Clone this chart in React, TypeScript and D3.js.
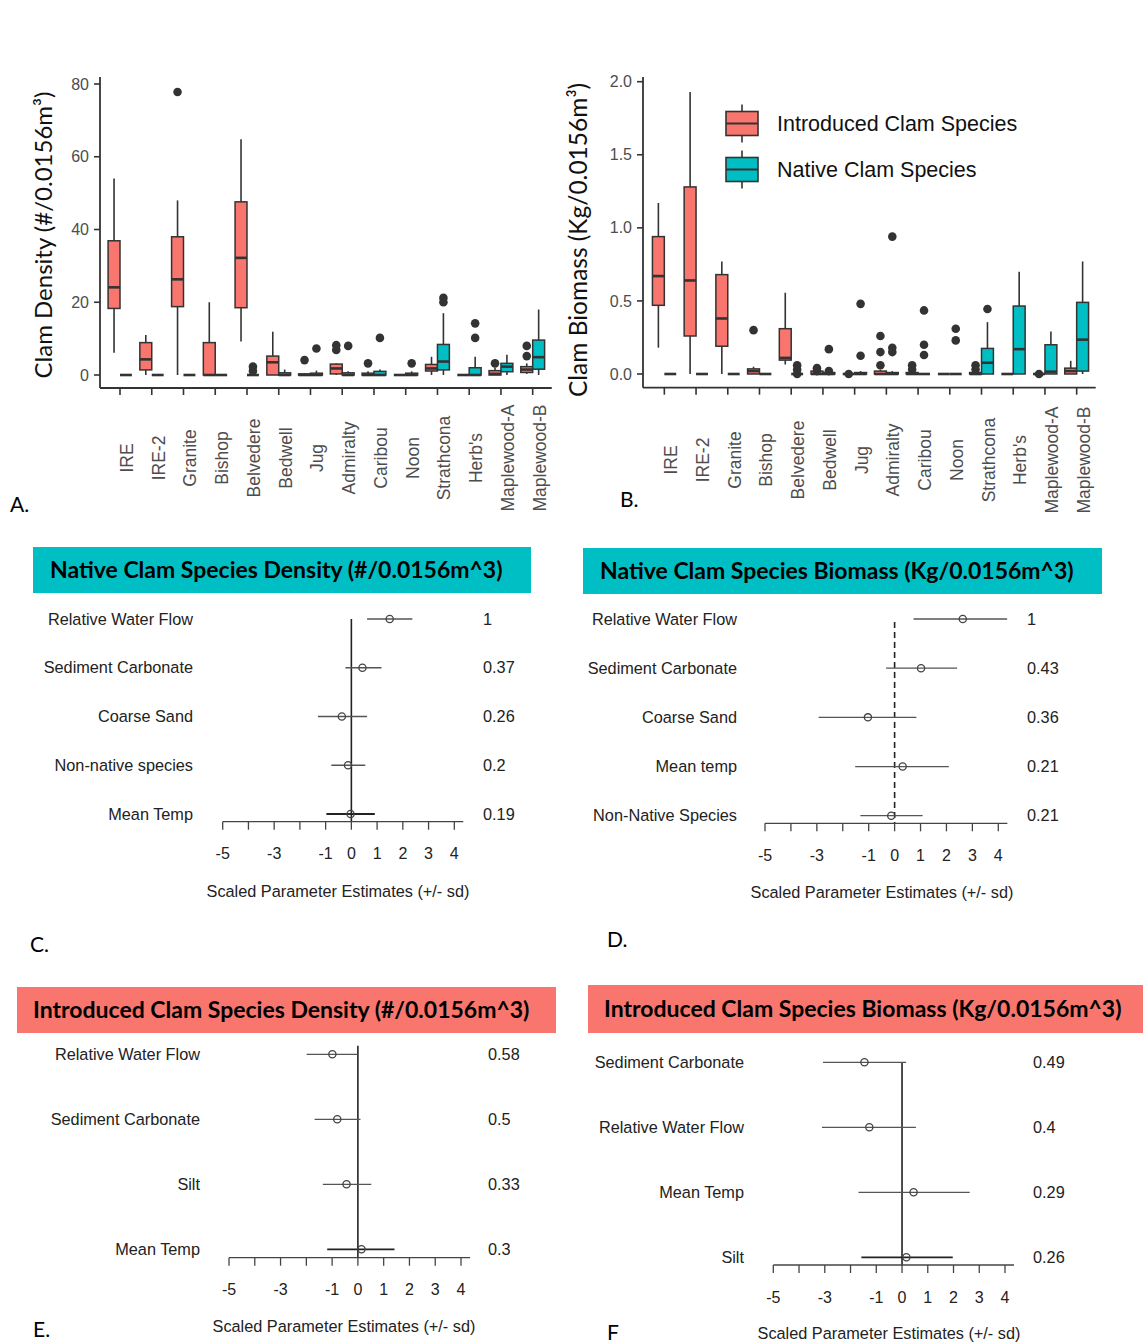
import * as d3 from "d3";

// ---- box plot data (A: density, B: biomass) ----
const SITES = [
  "IRE", "IRE-2", "Granite", "Bishop", "Belvedere", "Bedwell", "Jug",
  "Admiralty", "Caribou", "Noon", "Strathcona", "Herb's", "Maplewood-A", "Maplewood-B",
];

// [whisker low, q1, median, q3, whisker high]
const DENSITY_INTRO = [
  [6.1, 18.3, 24.1, 36.9, 54], [0, 1.4, 4.3, 8.9, 11], [0, 18.8, 26.3, 38, 48],
  [0, 0, 0, 8.9, 20], [9.2, 18.5, 32.2, 47.6, 64.8], [0, 0, 3.5, 5.2, 11.9],
  [0, 0, 0, 0.3, 0.5], [0, 0.3, 1.8, 3, 3.2], [0, 0, 0, 0.5, 1], [0, 0, 0, 0, 0],
  [0, 1.1, 1.8, 2.9, 5], [0, 0, 0, 0, 0], [0, 0, 0.3, 1.2, 2], [0.3, 0.7, 1.5, 2.3, 3.2],
];
const DENSITY_INTRO_OUT = [
  [], [], [77.8], [], [], [], [4.1], [8.2, 6.9], [3.2], [], [], [], [3.2], [8, 5.2],
];
const DENSITY_NATIVE = [
  [0, 0, 0, 0, 0], [0, 0, 0, 0, 0], [0, 0, 0, 0, 0], [0, 0, 0, 0, 0],
  [0, 0, 0, 0, 0.5], [0, 0, 0, 0.6, 1.5], [0, 0, 0, 0.5, 1.2], [0, 0, 0, 0.6, 1],
  [0, 0, 0, 1, 1.5], [0, 0, 0, 0.5, 1], [0, 1.4, 3.7, 8.4, 17], [0, 0, 0, 2, 5],
  [0, 0.9, 2.3, 3.2, 5.6], [0, 1.6, 4.9, 9.6, 18],
];
const DENSITY_NATIVE_OUT = [
  [], [], [], [], [2.3, 1.1], [], [7.3], [8], [10.2], [3.2], [21.2, 20], [14.2, 10.2], [], [],
];

const BIOMASS_INTRO = [
  [0.18, 0.47, 0.67, 0.94, 1.17], [0, 0.26, 0.64, 1.28, 1.93], [0, 0.19, 0.38, 0.68, 0.77],
  [0, 0, 0.02, 0.035, 0.05], [0.065, 0.095, 0.11, 0.31, 0.556], [0, 0, 0, 0.02, 0.03],
  [0, 0, 0, 0, 0], [0, 0, 0, 0.02, 0.03], [0, 0, 0, 0.01, 0.02], [0, 0, 0, 0, 0],
  [0, 0, 0, 0.01, 0.02], [0, 0, 0, 0, 0], [0, 0, 0, 0, 0], [0, 0, 0.02, 0.04, 0.09],
];
const BIOMASS_INTRO_OUT = [
  [], [], [], [0.3], [], [0.04, 0.02], [0], [0.26, 0.15, 0.06], [0.06, 0.03], [],
  [0.06, 0.03], [], [0], [],
];
const BIOMASS_NATIVE = [
  [0, 0, 0, 0, 0], [0, 0, 0, 0, 0], [0, 0, 0, 0, 0], [0, 0, 0, 0, 0], [0, 0, 0, 0, 0],
  [0, 0, 0, 0.01, 0.02], [0, 0, 0, 0.01, 0.02], [0, 0, 0, 0.01, 0.02], [0, 0, 0, 0, 0],
  [0, 0, 0, 0, 0], [0, 0, 0.077, 0.175, 0.355], [0, 0, 0.17, 0.465, 0.7],
  [0, 0, 0.016, 0.2, 0.29], [0, 0.02, 0.235, 0.49, 0.77],
];
const BIOMASS_NATIVE_OUT = [
  [], [], [], [], [0.06, 0.03, 0], [0.17, 0.02], [0.48, 0.125], [0.94, 0.18, 0.15],
  [0.435, 0.2, 0.13], [0.31, 0.23], [0.445], [], [], [],
];

const DENSITY_TICKS = [0, 20, 40, 60, 80];
const BIOMASS_TICKS = [0, 0.5, 1, 1.5, 2];
const LEGEND_KEYS = ["Introduced Clam Species", "Native Clam Species"];

// ---- forest plot data (C-F) ----
const C_LABELS = ["Relative Water Flow", "Sediment Carbonate", "Coarse Sand", "Non-native species", "Mean Temp"];
const C_EST = [1.49, 0.43, -0.37, -0.13, -0.03];
const C_LO = [0.61, -0.23, -1.3, -0.78, -0.97];
const C_HI = [2.37, 1.17, 0.61, 0.54, 0.91];
const C_WEIGHT = ["1", "0.37", "0.26", "0.2", "0.19"];

const D_LABELS = ["Relative Water Flow", "Sediment Carbonate", "Coarse Sand", "Mean temp", "Non-Native Species"];
const D_EST = [2.63, 1.02, -1.03, 0.31, -0.13];
const D_LO = [0.73, -0.33, -2.93, -1.52, -1.32];
const D_HI = [4.34, 2.41, 0.84, 2.09, 1.08];
const D_WEIGHT = ["1", "0.43", "0.36", "0.21", "0.21"];

const E_LABELS = ["Relative Water Flow", "Sediment Carbonate", "Silt", "Mean Temp"];
const E_EST = [-0.99, -0.8, -0.44, 0.14];
const E_LO = [-1.99, -1.68, -1.36, -1.19];
const E_HI = [-0.02, 0.1, 0.52, 1.42];
const E_WEIGHT = ["0.58", "0.5", "0.33", "0.3"];

const F_LABELS = ["Sediment Carbonate", "Relative Water Flow", "Mean Temp", "Silt"];
const F_EST = [-1.46, -1.27, 0.45, 0.17];
const F_LO = [-3.07, -3.11, -1.69, -1.58];
const F_HI = [0.16, 0.54, 2.63, 1.97];
const F_WEIGHT = ["0.49", "0.4", "0.29", "0.26"];

const AXIS_TICKS = [-5, -4, -3, -2, -1, 0, 1, 2, 3, 4];
const AXIS_TICK_LABELS = [-5, -3, -1, 0, 1, 2, 3, 4];

const INTRO_COL = "#F8766D";
const NATIVE_COL = "#00BFC4";
const DARK = "#333333";
const GREY30 = "#4D4D4D";
const CAL = "Lato, 'Noto Sans', sans-serif";
const ARIAL = "'Liberation Sans', Arial, sans-serif";
const FOREST_FS = 16.3;

function Box({ cx, w, s, y, fill }) {
  const [lo, q1, med, q3, hi] = s;
  return (
    <g>
      <line x1={cx} x2={cx} y1={y(hi)} y2={y(q3)} stroke={DARK} strokeWidth={1.6} />
      <line x1={cx} x2={cx} y1={y(q1)} y2={y(lo)} stroke={DARK} strokeWidth={1.6} />
      <rect x={cx - w / 2} y={y(q3)} width={w} height={Math.max(0, y(q1) - y(q3))}
        fill={fill} stroke={DARK} strokeWidth={1.5} />
      <line x1={cx - w / 2} x2={cx + w / 2} y1={y(med)} y2={y(med)} stroke={DARK} strokeWidth={2.6} />
    </g>
  );
}

function BoxPanel({ L, intro, introOut, native, nativeOut, ticks, fmt, yTitle, legend }) {
  const x = d3.scalePoint().domain(SITES).range([L.x0, L.x1]).padding(0.6);
  const y = d3.scaleLinear().domain(L.yDomain).range(L.yRange);
  const w = (x.step() * 0.75) / 2;
  return (
    <g>
      {SITES.map((site, i) => {
        const c = x(site);
        return (
          <g key={site}>
            <Box cx={c - w / 2} w={w} s={intro[i]} y={y} fill={INTRO_COL} />
            <Box cx={c + w / 2} w={w} s={native[i]} y={y} fill={NATIVE_COL} />
            {introOut[i].map((v, k) => (
              <circle key={"i" + k} cx={c - w / 2} cy={y(v)} r={4.3} fill={DARK} />
            ))}
            {nativeOut[i].map((v, k) => (
              <circle key={"n" + k} cx={c + w / 2} cy={y(v)} r={4.3} fill={DARK} />
            ))}
          </g>
        );
      })}
      {/* axes */}
      <line x1={L.yAxisX} x2={L.yAxisX} y1={L.axisTop} y2={L.xAxisY} stroke={DARK} strokeWidth={1.8} />
      <line x1={L.yAxisX} x2={L.x1} y1={L.xAxisY} y2={L.xAxisY} stroke={DARK} strokeWidth={1.8} />
      {ticks.map((t) => (
        <g key={t}>
          <line x1={L.yAxisX - 6} x2={L.yAxisX} y1={y(t)} y2={y(t)} stroke={DARK} strokeWidth={1.6} />
          <text x={L.yAxisX - 11} y={y(t)} dy="0.35em" textAnchor="end" fontFamily={ARIAL}
            fontSize={16} fill={GREY30}>{fmt(t)}</text>
        </g>
      ))}
      {SITES.map((site) => (
        <g key={site}>
          <line x1={x(site)} x2={x(site)} y1={L.xAxisY} y2={L.xAxisY + 7} stroke={DARK} strokeWidth={1.6} />
          <text transform={`translate(${x(site) + 13},${L.labelY}) rotate(-90)`} textAnchor="middle"
            fontFamily={ARIAL} fontSize={17.5} fill={GREY30}>{site}</text>
        </g>
      ))}
      <text transform={`translate(${L.titleX},${L.titleY}) rotate(-90)`} textAnchor="middle" dy="0.35em"
        fontFamily={CAL} fontSize={L.titleFs} fill="#111">{yTitle}</text>
      {legend && (
        <g>
          {LEGEND_KEYS.map((k, i) => {
            const ly = legend.y + i * legend.gap;
            const fill = i === 0 ? INTRO_COL : NATIVE_COL;
            return (
              <g key={k}>
                <line x1={legend.x + 16} x2={legend.x + 16} y1={ly - 19} y2={ly + 19} stroke={DARK} strokeWidth={1.6} />
                <rect x={legend.x} y={ly - 12} width={32} height={24} fill={fill} stroke={DARK} strokeWidth={1.6} />
                <line x1={legend.x} x2={legend.x + 32} y1={ly} y2={ly} stroke={DARK} strokeWidth={2} />
                <text x={legend.x + 51} y={ly} dy="0.36em" fontFamily={ARIAL} fontSize={21.5} fill="#111">{k}</text>
              </g>
            );
          })}
        </g>
      )}
    </g>
  );
}

function ForestPanel({ P, labels, est, lo, hi, weights }) {
  const x = d3.scaleLinear().domain([-5, 4]).range([P.x0, P.x1]);
  const y = d3.scalePoint().domain(labels).range([P.rowTop, P.rowBottom]);
  const last = labels.length - 1;
  return (
    <g>
      <rect x={P.bar[0]} y={P.bar[1]} width={P.bar[2] - P.bar[0]} height={P.bar[3] - P.bar[1]} fill={P.color} />
      <text x={P.titleX} y={(P.bar[1] + P.bar[3]) / 2} dy="0.36em" fontFamily={CAL} fontWeight={700}
        fontSize={23} fill="#000">{P.title}</text>
      <line x1={x(0)} x2={x(0)} y1={P.zeroTop} y2={P.axisY} stroke="#222" strokeWidth={1.6}
        strokeDasharray={P.dashed ? "6,4" : null} />
      {labels.map((lab, i) => (
        <g key={lab}>
          <text x={P.labelX} y={y(lab)} dy="0.35em" textAnchor="end" fontFamily={ARIAL} fontSize={FOREST_FS} fill="#222">{lab}</text>
          <line x1={x(lo[i])} x2={x(hi[i])} y1={y(lab)} y2={y(lab)}
            stroke={P.darkLast && i === last ? "#222" : "#555"} strokeWidth={P.darkLast && i === last ? 1.8 : 1.3} />
          <circle cx={x(est[i])} cy={y(lab)} r={3.6} fill="none" stroke="#444" strokeWidth={1.3} />
          <text x={P.weightX} y={y(lab)} dy="0.35em" fontFamily={ARIAL} fontSize={FOREST_FS} fill="#222">{weights[i]}</text>
        </g>
      ))}
      <line x1={x(-5)} x2={x(4.35)} y1={P.axisY} y2={P.axisY} stroke="#444" strokeWidth={1.3} />
      {AXIS_TICKS.map((t) => (
        <line key={t} x1={x(t)} x2={x(t)} y1={P.axisY} y2={P.axisY + 8} stroke="#444" strokeWidth={1.3} />
      ))}
      {AXIS_TICK_LABELS.map((t) => (
        <text key={t} x={x(t)} y={P.axisY + 32} dy="0.35em" textAnchor="middle" fontFamily={ARIAL} fontSize={16} fill="#222">{t}</text>
      ))}
      <text x={P.axisTitleX} y={P.axisTitleY} dy="0.35em" textAnchor="middle" fontFamily={ARIAL} fontSize={FOREST_FS} fill="#222">
        Scaled Parameter Estimates (+/- sd)
      </text>
    </g>
  );
}

const LAYOUT_A = { x0: 100.95, x1: 551.75, yDomain: [0, 80], yRange: [375, 84], yAxisX: 100, axisTop: 77, xAxisY: 388, labelY: 458, titleX: 44, titleY: 235, titleFs: 24 };
const LAYOUT_B = { x0: 645.3, x1: 1095.7, yDomain: [0, 2], yRange: [374, 81.7], yAxisX: 643, axisTop: 77, xAxisY: 387.7, labelY: 460, titleX: 578, titleY: 240, titleFs: 24.5 };

const PANEL_C = { x0: 222.7, x1: 454.3, rowTop: 619, rowBottom: 814, axisY: 821.7, zeroTop: 619, labelX: 193, weightX: 483, axisTitleX: 338, axisTitleY: 891, bar: [33, 547, 531, 593], color: NATIVE_COL, titleX: 50, title: "Native Clam Species Density (#/0.0156m^3)", darkLast: true };
const PANEL_D = { x0: 765, x1: 998.3, rowTop: 619, rowBottom: 815.7, axisY: 823.3, zeroTop: 622, labelX: 737, weightX: 1027, axisTitleX: 882, axisTitleY: 892, bar: [583, 548, 1102, 594], color: NATIVE_COL, titleX: 600, title: "Native Clam Species Biomass (Kg/0.0156m^3)", dashed: true };
const PANEL_E = { x0: 229, x1: 461, rowTop: 1054.3, rowBottom: 1249.3, axisY: 1257.7, zeroTop: 1045.7, labelX: 200, weightX: 488, axisTitleX: 344, axisTitleY: 1326, bar: [17, 987, 556, 1033], color: INTRO_COL, titleX: 33, title: "Introduced Clam Species Density (#/0.0156m^3)", darkLast: true };
const PANEL_F = { x0: 773.3, x1: 1005, rowTop: 1062.3, rowBottom: 1257.3, axisY: 1265, zeroTop: 1062.3, labelX: 744, weightX: 1033, axisTitleX: 889, axisTitleY: 1333, bar: [588, 985, 1143, 1033], color: INTRO_COL, titleX: 604, title: "Introduced Clam Species Biomass (Kg/0.0156m^3)", darkLast: true };

const PANEL_LETTERS = [
  { t: "A.", x: 10, y: 512 }, { t: "B.", x: 620, y: 507 }, { t: "C.", x: 30, y: 952 },
  { t: "D.", x: 607, y: 947 }, { t: "E.", x: 33, y: 1337 }, { t: "F", x: 607, y: 1340 },
];

export default function App() {
  return (
    <svg width={1143} height={1343} style={{ position: "absolute", left: 0, top: 0, background: "#fff" }}>
      <rect width={1143} height={1343} fill="#fff" />
      <BoxPanel L={LAYOUT_A} intro={DENSITY_INTRO} introOut={DENSITY_INTRO_OUT} native={DENSITY_NATIVE}
        nativeOut={DENSITY_NATIVE_OUT} ticks={DENSITY_TICKS} fmt={(t) => String(t)} yTitle="Clam Density (#/0.0156m³)" />
      <BoxPanel L={LAYOUT_B} intro={BIOMASS_INTRO} introOut={BIOMASS_INTRO_OUT} native={BIOMASS_NATIVE}
        nativeOut={BIOMASS_NATIVE_OUT} ticks={BIOMASS_TICKS} fmt={d3.format(".1f")} yTitle="Clam Biomass (Kg/0.0156m³)"
        legend={{ x: 726, y: 123.5, gap: 46 }} />
      <ForestPanel P={PANEL_C} labels={C_LABELS} est={C_EST} lo={C_LO} hi={C_HI} weights={C_WEIGHT} />
      <ForestPanel P={PANEL_D} labels={D_LABELS} est={D_EST} lo={D_LO} hi={D_HI} weights={D_WEIGHT} />
      <ForestPanel P={PANEL_E} labels={E_LABELS} est={E_EST} lo={E_LO} hi={E_HI} weights={E_WEIGHT} />
      <ForestPanel P={PANEL_F} labels={F_LABELS} est={F_EST} lo={F_LO} hi={F_HI} weights={F_WEIGHT} />
      {PANEL_LETTERS.map((p) => (
        <text key={p.t} x={p.x} y={p.y} fontFamily={CAL} fontSize={21} fill="#000">{p.t}</text>
      ))}
    </svg>
  );
}
